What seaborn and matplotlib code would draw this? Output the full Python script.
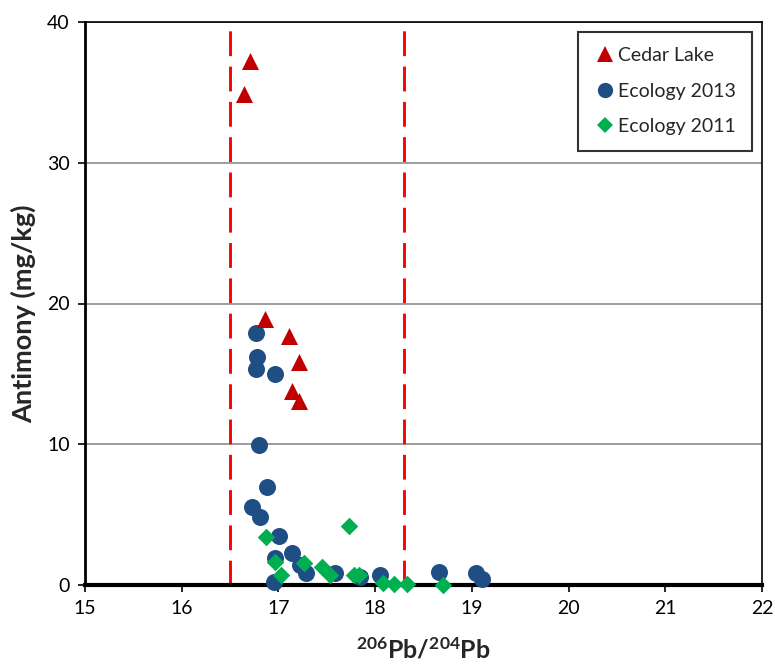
import matplotlib
matplotlib.use("Agg")
import matplotlib.pyplot as plt
import seaborn as sns
import pandas as pd
from matplotlib.lines import Line2D

# ---- data ----
cedar_x = [16.71, 16.64, 16.86, 17.11, 17.21, 17.14, 17.21]
cedar_y = [37.2, 34.9, 18.9, 17.7, 15.85, 13.8, 13.1]

eco13_x = [16.77, 16.78, 16.77, 16.96, 16.80, 16.88, 16.73, 16.81, 17.01, 16.96,
           17.14, 17.22, 17.28, 16.95, 17.59, 17.84, 18.05, 18.66, 19.04, 19.11]
eco13_y = [17.9, 16.2, 15.35, 15.0, 9.95, 6.97, 5.54, 4.83, 3.48, 1.92,
           2.27, 1.42, 0.85, 0.21, 0.85, 0.57, 0.71, 0.92, 0.85, 0.43]

eco11_x = [16.87, 16.96, 17.03, 17.26, 17.45, 17.53, 17.73, 17.78, 17.83,
           18.08, 18.19, 18.33, 18.70]
eco11_y = [3.41, 1.63, 0.71, 1.56, 1.28, 0.71, 4.19, 0.71, 0.71,
           0.14, 0.10, 0.07, 0.0]

groups = ["Cedar Lake", "Ecology 2013", "Ecology 2011"]
xlim = (15, 22)
ylim = (0, 40)
xticks = [15, 16, 17, 18, 19, 20, 21, 22]
yticks = [0, 10, 20, 30, 40]
vlines = [16.5, 18.3]

colors = {"Cedar Lake": "#C00000", "Ecology 2013": "#1F4E85", "Ecology 2011": "#00B050"}
markers = {"Cedar Lake": "^", "Ecology 2013": "o", "Ecology 2011": "D"}
sizes = {"Cedar Lake": 150, "Ecology 2013": 150, "Ecology 2011": 80}

df = pd.concat([
    pd.DataFrame({"x": eco13_x, "y": eco13_y, "g": "Ecology 2013"}),
    pd.DataFrame({"x": eco11_x, "y": eco11_y, "g": "Ecology 2011"}),
    pd.DataFrame({"x": cedar_x, "y": cedar_y, "g": "Cedar Lake"}),
], ignore_index=True)

sns.set_style("white")
plt.rcParams["font.family"] = ["Lato", "DejaVu Sans"]
plt.rcParams["mathtext.fontset"] = "custom"
plt.rcParams["mathtext.rm"] = "Lato:bold"
plt.rcParams["mathtext.bf"] = "Lato:bold"
plt.rcParams["mathtext.default"] = "rm"

fig = plt.figure(figsize=(7.75, 6.67), dpi=100)
ax = fig.add_axes([85 / 775, 82 / 667, 677 / 775, 563 / 667])

for g in ["Ecology 2013", "Ecology 2011", "Cedar Lake"]:
    sub = df[df["g"] == g]
    sns.scatterplot(data=sub, x="x", y="y", ax=ax, color=colors[g], marker=markers[g],
                    s=sizes[g], linewidth=0, legend=False, zorder=6, clip_on=False)

for v in vlines:
    ax.axvline(v, color="#FF0000", lw=2.1, ls=(0, (8.5, 3.6)), zorder=3)

ax.set_xlim(*xlim)
ax.set_ylim(*ylim)
ax.set_xticks(xticks)
ax.set_yticks(yticks)
ax.yaxis.grid(True, color="#8C8C8C", lw=1.2)
ax.set_axisbelow(True)

for s in ["top", "right"]:
    ax.spines[s].set_linewidth(1.2)
    ax.spines[s].set_color("black")
ax.spines["left"].set_linewidth(2)
ax.spines["left"].set_color("black")
ax.spines["bottom"].set_linewidth(3)
ax.spines["bottom"].set_color("black")
ax.spines["bottom"].set_zorder(5)

ax.tick_params(axis="both", which="major", direction="out", length=5, width=1.2,
               labelsize=14, colors="black", pad=6)
ax.tick_params(axis="x", bottom=True)
ax.tick_params(axis="y", left=True)

ax.set_xlabel("$^{206}$Pb/$^{204}$Pb", fontsize=18, fontweight="bold", labelpad=14)
ax.set_ylabel("Antimony (mg/kg)", fontsize=19.5, fontweight="bold")
ax.yaxis.set_label_coords(-0.072, 0.481)

handles = [Line2D([], [], ls="", marker=markers[g], color=colors[g],
                  markersize=(11 if g != "Ecology 2011" else 8.5), markeredgewidth=0)
           for g in groups]
leg = ax.legend(handles, groups, loc="upper right", bbox_to_anchor=(0.985, 0.983),
                frameon=True, fancybox=False, fontsize=14, handletextpad=0.1,
                labelspacing=0.95, borderpad=0.8, handlelength=1.2, borderaxespad=0)
leg.get_frame().set_edgecolor("black")
leg.get_frame().set_linewidth(1.5)

fig.savefig("out.png", dpi=100, facecolor="white")
